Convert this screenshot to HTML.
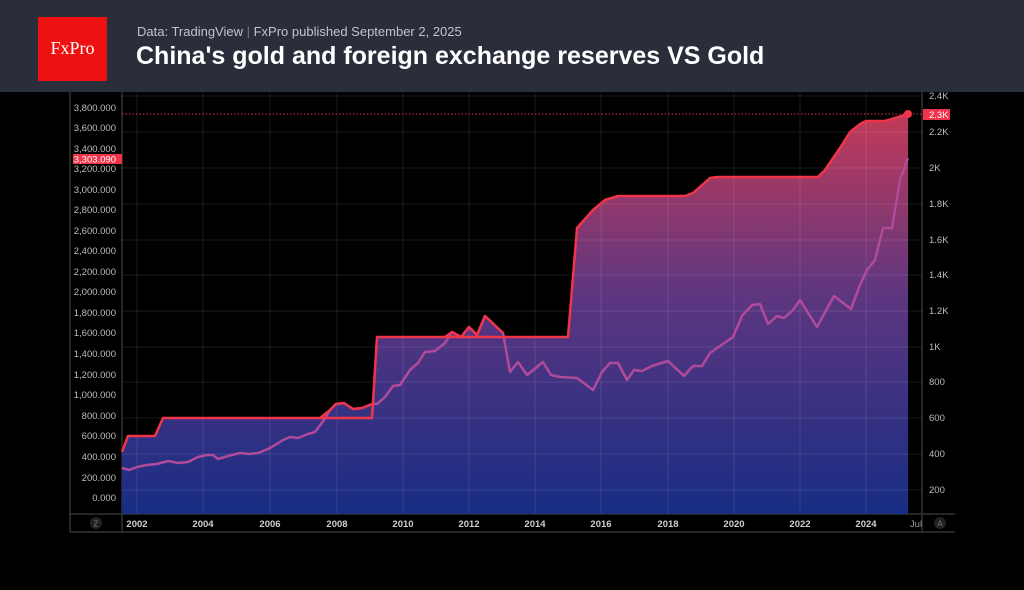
<!DOCTYPE html>
<html><head><meta charset="utf-8"><style>
body{margin:0;width:1024px;height:585px;background:#000;overflow:hidden;font-family:"Liberation Sans",sans-serif}
</style></head><body>
<svg width="1024" height="585" xmlns="http://www.w3.org/2000/svg" font-family="Liberation Sans, sans-serif">
<defs>
<linearGradient id="g" x1="0" y1="114" x2="0" y2="514" gradientUnits="userSpaceOnUse">
<stop offset="0" stop-color="#c23a58"/>
<stop offset="0.45" stop-color="#5e3680"/>
<stop offset="1" stop-color="#172d84"/>
</linearGradient>
</defs>
<rect x="0" y="0" width="1024" height="92" fill="#2a2d3a"/>
<rect x="38" y="17" width="69" height="64" fill="#ee1111"/>
<text x="72.5" y="54" fill="#fff" font-family="Liberation Serif, serif" font-size="18" text-anchor="middle">FxPro</text>
<text x="137" y="36" fill="#c4c4c8" font-size="13">Data: TradingView <tspan fill="#777">|</tspan> FxPro published  September 2, 2025</text>
<text x="136" y="64" fill="#fff" font-size="25" font-weight="bold">China's gold and foreign exchange reserves VS Gold</text>

<!-- frame -->
<g stroke="#333" stroke-width="1.5" fill="none">
<line x1="70" y1="92" x2="70" y2="532"/>
<line x1="122" y1="92" x2="122" y2="532"/>
<line x1="922" y1="92" x2="922" y2="532"/>
<line x1="70" y1="514" x2="955" y2="514"/>
<line x1="70" y1="532" x2="955" y2="532"/>
</g>
<!-- fill -->
<path fill="url(#g)" d="M122,452 L128,436 L155,436 L163,418 L320,418 L330,410 L336,404 L344,403 L353,409 L362,408 L372,404 L377,337 L445,337 L452,332 L461,337 L469,327 L477,335 L485,316 L503,333 L503,337 L568,337 L577,228 L593,210 L605,200 L618,196 L685,196 L693,193 L710,178 L717,177 L818,177 L825,170 L840,148 L850,132 L860,124 L866,121 L885,121 L908,114 L908,514 L122,514 Z"/>
<!-- grid -->
<g stroke="#ffffff" stroke-opacity="0.1" stroke-width="1">
<line x1="122" y1="96" x2="922" y2="96"/><line x1="122" y1="132" x2="922" y2="132"/><line x1="122" y1="168" x2="922" y2="168"/><line x1="122" y1="204" x2="922" y2="204"/><line x1="122" y1="240" x2="922" y2="240"/><line x1="122" y1="275" x2="922" y2="275"/><line x1="122" y1="311" x2="922" y2="311"/><line x1="122" y1="347" x2="922" y2="347"/><line x1="122" y1="382" x2="922" y2="382"/><line x1="122" y1="418" x2="922" y2="418"/><line x1="122" y1="454" x2="922" y2="454"/><line x1="122" y1="490" x2="922" y2="490"/>
<line x1="137" y1="92" x2="137" y2="514"/><line x1="203" y1="92" x2="203" y2="514"/><line x1="270" y1="92" x2="270" y2="514"/><line x1="337" y1="92" x2="337" y2="514"/><line x1="403" y1="92" x2="403" y2="514"/><line x1="469" y1="92" x2="469" y2="514"/><line x1="535" y1="92" x2="535" y2="514"/><line x1="601" y1="92" x2="601" y2="514"/><line x1="668" y1="92" x2="668" y2="514"/><line x1="734" y1="92" x2="734" y2="514"/><line x1="800" y1="92" x2="800" y2="514"/><line x1="866" y1="92" x2="866" y2="514"/>
</g>
<line x1="122" y1="114" x2="922" y2="114" stroke="#e0324a" stroke-width="1" stroke-dasharray="1.5,2"/>
<!-- gold line (purple) -->
<polyline fill="none" stroke="#b04a9a" stroke-width="2.5" stroke-linejoin="round" points="122,468 129,470 137,467 147,465 157,464 168,461 178,463 188,462 198,457 207,455 213,455 218,459 228,456 240,453 250,454 258,453 268,449 275,445 283,440 290,437 298,438 308,434 315,432 324,420 330,410 336,404 344,403 353,409 362,408 372,404 377,404 385,397 393,386 400,385 410,370 418,363 425,352 435,351 445,343 452,332 461,337 469,327 477,335 485,316 503,333 510,372 518,362 527,375 543,362 551,375 560,377 577,378 593,390 602,372 610,363 618,363 627,380 634,370 642,371 652,366 668,361 684,376 693,366 702,366 710,353 720,346 733,337 742,316 752,305 760,304 768,324 777,316 784,318 793,310 800,300 817,327 834,296 851,309 860,285 867,270 875,260 883,228 892,228 900,180 908,158"/>
<!-- reserves line (red) -->
<polyline fill="none" stroke="#f0344a" stroke-width="2.5" stroke-linejoin="round" points="122,452 128,436 155,436 163,418 372,418 377,337 568,337 577,228 593,210 605,200 618,196 685,196 693,193 710,178 717,177 818,177 825,170 840,148 850,132 860,124 866,121 885,121 908,114"/>
<polyline fill="none" stroke="#f0344a" stroke-width="2.5" stroke-linejoin="round" points="320,418 330,410 336,404 344,403 353,409 362,408 372,404"/>
<polyline fill="none" stroke="#f0344a" stroke-width="2.5" stroke-linejoin="round" points="445,337 452,332 461,337 469,327 477,335 485,316 503,333"/>
<circle cx="908" cy="114" r="4" fill="#f0344a"/>
<!-- left axis -->
<g fill="#bdbdbd" font-size="9.5" text-anchor="end">
<text x="116" y="111">3,800.000</text><text x="116" y="131">3,600.000</text><text x="116" y="152">3,400.000</text><text x="116" y="172">3,200.000</text><text x="116" y="193">3,000.000</text><text x="116" y="213">2,800.000</text><text x="116" y="234">2,600.000</text><text x="116" y="254">2,400.000</text><text x="116" y="275">2,200.000</text><text x="116" y="295">2,000.000</text><text x="116" y="316">1,800.000</text><text x="116" y="336">1,600.000</text><text x="116" y="357">1,400.000</text><text x="116" y="378">1,200.000</text><text x="116" y="398">1,000.000</text><text x="116" y="419">800.000</text><text x="116" y="439">600.000</text><text x="116" y="460">400.000</text><text x="116" y="481">200.000</text><text x="116" y="501">0.000</text>
</g>
<rect x="73" y="154" width="49" height="10" fill="#f0344a"/>
<text x="116" y="162.5" fill="#fff" font-size="9.5" text-anchor="end">3,303.090</text>
<!-- right axis -->
<g fill="#bdbdbd" font-size="9.5">
<text x="929" y="99">2.4K</text><text x="929" y="135">2.2K</text><text x="929" y="171">2K</text><text x="929" y="207">1.8K</text><text x="929" y="243">1.6K</text><text x="929" y="278">1.4K</text><text x="929" y="314">1.2K</text><text x="929" y="350">1K</text><text x="929" y="385">800</text><text x="929" y="421">600</text><text x="929" y="457">400</text><text x="929" y="493">200</text>
</g>
<rect x="923" y="109" width="27" height="11" fill="#f0344a"/>
<text x="929" y="118" fill="#fff" font-size="9.5">2.3K</text>
<!-- bottom axis -->
<g fill="#cfcfcf" font-size="9.5" font-weight="bold" text-anchor="middle">
<text x="137" y="527">2002</text><text x="203" y="527">2004</text><text x="270" y="527">2006</text><text x="337" y="527">2008</text><text x="403" y="527">2010</text><text x="469" y="527">2012</text><text x="535" y="527">2014</text><text x="601" y="527">2016</text><text x="668" y="527">2018</text><text x="734" y="527">2020</text><text x="800" y="527">2022</text><text x="866" y="527">2024</text>
</g>
<text x="916" y="527" fill="#999" font-size="9.5" text-anchor="middle">Jul</text>
<circle cx="96" cy="523" r="6" fill="#222"/><text x="96" y="526.5" fill="#777" font-size="8" text-anchor="middle">Z</text>
<circle cx="940" cy="523" r="6" fill="#222"/><text x="940" y="526.5" fill="#777" font-size="8" text-anchor="middle">A</text>
</svg>
</body></html>
